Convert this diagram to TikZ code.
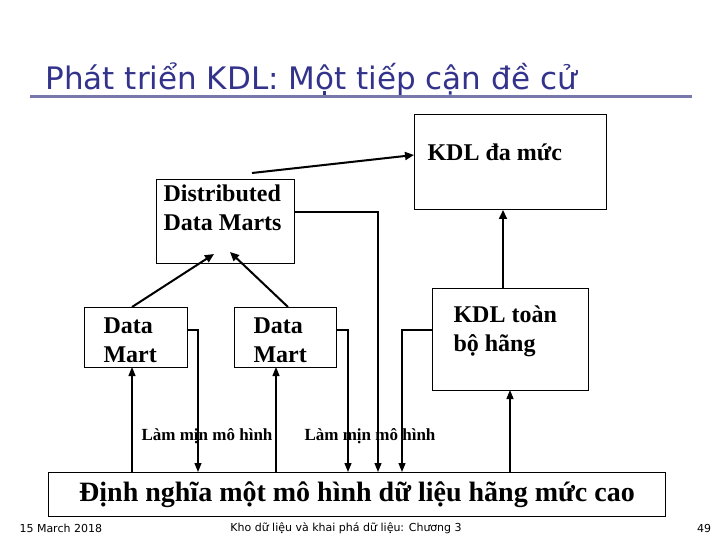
\documentclass[tikz,border=0pt]{standalone}
\usepackage{fontspec}
\setmainfont{Liberation Serif}
\newfontfamily\titlefont{DejaVu Sans}
\newfontfamily\footfont{DejaVu Sans}
\usetikzlibrary{arrows.meta}
\definecolor{titleblue}{RGB}{51,51,140}
\definecolor{rulecol}{RGB}{120,120,170}
\begin{document}
\begin{tikzpicture}[x=1pt,y=-1pt,
  box/.style={draw,line width=1pt,inner sep=0pt},
  lbl/.style={font=\bfseries\fontsize{24}{29}\selectfont,align=left,anchor=north west},
  arr/.style={line width=2pt,-{Triangle[length=9pt,width=8pt]}},
  thin/.style={line width=1.2pt,-{Triangle[length=9pt,width=7pt]}},
  small/.style={font=\bfseries\fontsize{17}{20}\selectfont}]
\useasboundingbox (0,0) rectangle (720,540);
\node[anchor=west,text=titleblue,font=\titlefont\fontsize{31}{36}\selectfont] (title) at (42,79) {Phát triển KDL: Một tiếp cận đề cử};
\draw[rulecol,line width=3pt] (30,97) -- (692,97);
% boxes
\draw[box] (414,115) rectangle (606,210); \coordinate (kdmL) at (414,155); \coordinate (kdmB) at (503,210);
\node[lbl] (kdm) at (424,140) {KDL đa mức};
\draw[box] (156,180) rectangle (294,263);
\node[lbl] (dist) at (160,181) {Distributed\\Data Marts};
\draw[box] (84,307) rectangle (187,367);
\node[lbl] (dm1) at (100,314) {Data\\Mart};
\draw[box] (234,307) rectangle (336,367);
\node[lbl] (dm2) at (250,314) {Data\\Mart};
\draw[box] (432,288) rectangle (588,390);
\node[lbl] (kdt) at (450,302) {KDL toàn\\bộ hãng};
\draw[box] (48,472) rectangle (665,516);
\node[font=\bfseries\fontsize{28}{32}\selectfont] (def) at (357,495) {Định nghĩa một mô hình dữ liệu hãng mức cao};
% thick arrows
\coordinate (a0) at (252,173);
\draw[arr] (a0) -- (kdmL);
\coordinate (d1t) at (132,307); \coordinate (d2t) at (288,307);
\draw[arr] (d1t) -- (214,254);
\draw[arr] (d2t) -- (230,252);
\coordinate (kdtT) at (503,288);
\draw[arr] (kdtT) -- (kdmB);
% up arrows from bottom box
\draw[thin] (132,472) -- (132,367);
\draw[thin] (276,472) -- (276,367);
\draw[thin] (510,472) -- (510,390);
% down connectors
\draw[thin] (187,330) -- (198,330) -- (198,472);
\draw[thin] (336,330) -- (348,330) -- (348,472);
\draw[thin] (294,212) -- (378,212) -- (378,472);
\draw[thin] (432,330) -- (402,330) -- (402,472);
\node[small] (l1) at (207,436) {Làm mịn mô hình};
\node[small] (l2) at (370,436) {Làm mịn mô hình};
% footer
\node[anchor=west,font=\footfont\fontsize{11}{13}\selectfont] (f1) at (16,528) {15 March 2018};
\node[font=\footfont\fontsize{11}{13}\selectfont] (f2) at (346,528) {Kho dữ liệu và khai phá dữ liệu: Chương 3};
\node[font=\footfont\fontsize{11}{13}\selectfont] (f3) at (704,528) {49};
\end{tikzpicture}
\end{document}
